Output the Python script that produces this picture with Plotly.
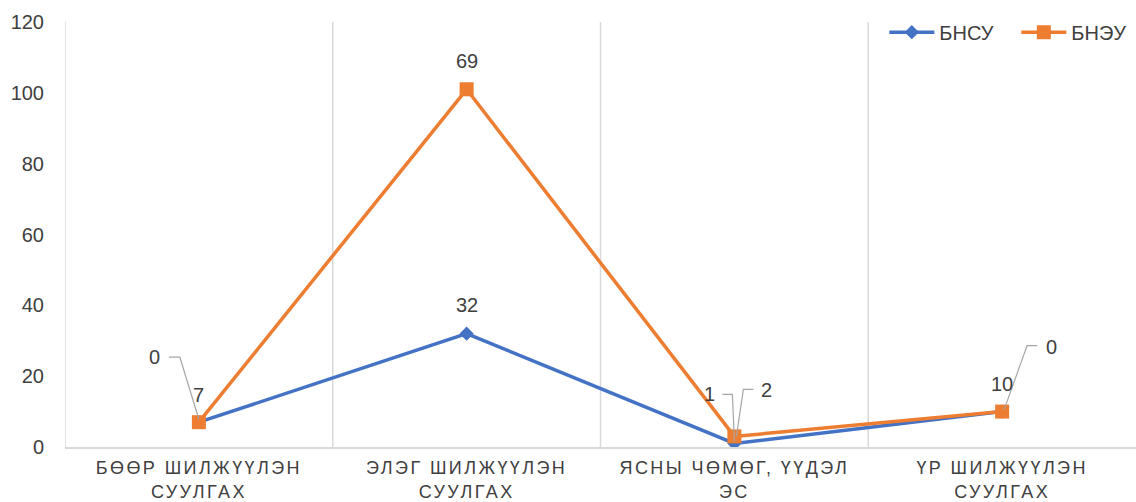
import plotly.graph_objects as go

categories = ["БӨӨР ШИЛЖҮҮЛЭН<br>СУУЛГАХ", "ЭЛЭГ ШИЛЖҮҮЛЭН<br>СУУЛГАХ",
              "ЯСНЫ ЧӨМӨГ, ҮҮДЭЛ<br>ЭС", "ҮР ШИЛЖҮҮЛЭН<br>СУУЛГАХ"]
bnsu = [7, 32, 1, 10]
bneu = [0, 69, 2, 0]
y_ticks = [0, 20, 40, 60, 80, 100, 120]

BLUE = "#4472C4"
ORANGE = "#ED7D31"
TXT = "#404040"
GRID = "#D9D9D9"
LEADER = "#A6A6A6"
FONT = "Liberation Sans, Arial"

stacked = [a + b for a, b in zip(bnsu, bneu)]
xi = list(range(len(categories)))

fig = go.Figure()
fig.add_trace(go.Scatter(x=xi, y=bnsu, name="БНСУ", mode="lines+markers",
                         line=dict(color=BLUE, width=3.5),
                         marker=dict(symbol="diamond", size=11, color=BLUE)))
fig.add_trace(go.Scatter(x=xi, y=stacked, name="БНЭУ", mode="lines+markers",
                         line=dict(color=ORANGE, width=3.5),
                         marker=dict(symbol="square", size=14, color=ORANGE)))

# label offsets (pixels) relative to the point: (dx, dy up), and optional leader elbow
blue_lbl = [(0, 27, None), (0, 29, None), (-25, 49, [(0, 2), (-2, 49), (-12, 49)]), (0, 28, None)]
orange_lbl = [(-44, 65, [(0, 3), (-19, 65), (-30, 65)]), (0, 28, None),
              (32, 46, [(2, 0), (9, 47), (19, 47)]), (49, 65, [(2, 2), (25, 66), (35, 66)])]

annotations = []
shapes = []
for series, vals, lbls in ((bnsu, bnsu, blue_lbl), (bneu, stacked, orange_lbl)):
    for i, (v, yv, (dx, dy, leader)) in enumerate(zip(series, vals, lbls)):
        annotations.append(dict(x=i, y=yv, xref="x", yref="y", text=str(v), showarrow=False,
                                xshift=dx, yshift=dy, font=dict(size=20, color=TXT, family=FONT)))
        if leader:
            path = "M " + " L ".join(f"{px},{py}" for px, py in leader)
            shapes.append(dict(type="path", path=path, xref="x", yref="y",
                               xsizemode="pixel", ysizemode="pixel", xanchor=i, yanchor=yv,
                               line=dict(color=LEADER, width=1.2)))

fig.update_layout(
    width=1136, height=502,
    margin=dict(l=65, r=0, t=22, b=55, autoexpand=False),
    paper_bgcolor="white", plot_bgcolor="white",
    font=dict(family=FONT, color=TXT, size=20),
    showlegend=True,
    legend=dict(orientation="h", x=0.765, xanchor="left", y=0.976, yanchor="middle",
                font=dict(size=20, color=TXT, family=FONT), bgcolor="rgba(0,0,0,0)",
                entrywidth=72, itemwidth=45, tracegroupgap=0),
    annotations=annotations,
    shapes=shapes,
    xaxis=dict(tickmode="array", tickvals=xi, ticktext=categories,
               range=[-0.5, 3.5], showgrid=False, zeroline=False, automargin=False,
               showline=True, linecolor=GRID, linewidth=1.5,
               tickfont=dict(size=18, color=TXT, family=FONT), ticks="",
               ticklabelstandoff=4),
    yaxis=dict(range=[0, 120], tickvals=y_ticks, showgrid=False, zeroline=False,
               showline=False, tickfont=dict(size=20, color=TXT, family=FONT), ticks="",
               automargin=False, ticklabelstandoff=20),
)
# vertical grid lines at category boundaries
for b in [-0.5, 0.5, 1.5, 2.5]:
    fig.add_shape(type="line", xref="x", yref="y", x0=b, x1=b, y0=0, y1=120,
                  line=dict(color=GRID, width=1.5), layer="below")

post = """
var s = document.createElement('style');
s.textContent = 'body{margin:0;overflow:hidden;} .xtick text{letter-spacing:2.4px;}';
document.head.appendChild(s);
"""
fig.write_html("out.html", post_script=post, config={"displayModeBar": False})
